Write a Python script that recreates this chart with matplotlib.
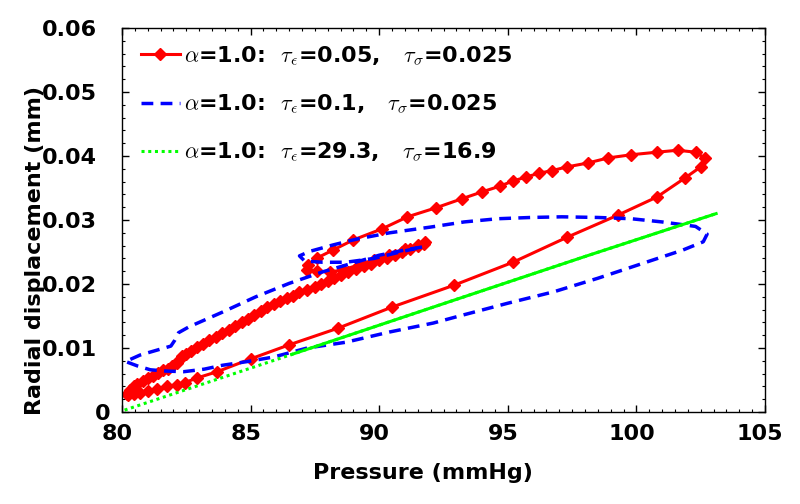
import matplotlib
matplotlib.use("Agg")
import matplotlib.pyplot as plt
from matplotlib.ticker import MultipleLocator
from matplotlib.transforms import ScaledTranslation

plt.rcParams["font.family"] = ["DejaVu Sans"]
plt.rcParams["font.weight"] = "bold"
plt.rcParams["mathtext.fontset"] = "cm"

# red: tau_eps = 0.05, tau_sig = 0.025 (one sample per marker)
red_p = [80.25, 80.45, 80.7, 81.0, 81.35, 81.75, 82.15, 82.45, 82.9, 83.7,
         85.0, 86.5, 88.4, 90.5, 92.9, 95.2, 97.3, 99.3, 100.8, 101.9,
         102.5, 102.65, 102.3, 101.6, 100.8, 99.8, 98.9, 98.1, 97.3, 96.7,
         96.2, 95.7, 95.2, 94.7, 94.0, 93.2, 92.2, 91.1, 90.1, 89.0,
         88.2, 87.6, 87.25, 87.2, 87.6, 88.1, 88.6, 89.2, 89.8, 90.4,
         91.0, 91.5, 91.8, 91.75, 91.5, 91.2, 90.9, 90.6, 90.3, 90.0,
         89.7, 89.4, 89.1, 88.8, 88.5, 88.25, 88.0, 87.75, 87.5, 87.2,
         86.9, 86.65, 86.4, 86.15, 85.9, 85.65, 85.4, 85.15, 84.9, 84.65,
         84.4, 84.15, 83.9, 83.65, 83.4, 83.15, 82.9, 82.7, 82.5, 82.35,
         82.2, 82.15, 81.95, 81.8, 81.6, 81.4, 81.2, 81.0, 80.8, 80.6,
         80.45, 80.3, 80.2]
red_d = [0.0027, 0.0028, 0.0030, 0.0033, 0.0036, 0.0040, 0.0043, 0.0046, 0.0053, 0.0063,
         0.0083, 0.0105, 0.0131, 0.0164, 0.0198, 0.0234, 0.0273, 0.0308, 0.0336, 0.0366,
         0.0383, 0.0397, 0.0406, 0.0409, 0.0406, 0.0402, 0.0397, 0.0389, 0.0383, 0.0377,
         0.0373, 0.0367, 0.0361, 0.0353, 0.0344, 0.0333, 0.0319, 0.0305, 0.0286, 0.0269,
         0.0253, 0.0241, 0.0230, 0.0222, 0.0220, 0.0219, 0.0222, 0.0230, 0.0238, 0.0246,
         0.0254, 0.0261, 0.0265, 0.0263, 0.0260, 0.0255, 0.0250, 0.0246, 0.0241, 0.0237,
         0.0232, 0.0228, 0.0224, 0.0219, 0.0214, 0.0209, 0.0204, 0.0200, 0.0196, 0.0191,
         0.0187, 0.0182, 0.0178, 0.0173, 0.0169, 0.0164, 0.0158, 0.0152, 0.0146, 0.0140,
         0.0134, 0.0128, 0.0123, 0.0117, 0.0112, 0.0106, 0.0101, 0.0096, 0.0091, 0.0087,
         0.0082, 0.0076, 0.0072, 0.0068, 0.0065, 0.0061, 0.0057, 0.0053, 0.0049, 0.0044,
         0.0040, 0.0035, 0.0028]

# blue: tau_eps = 0.1, tau_sig = 0.025
blue_p = [80.2, 80.6, 81.1, 81.7, 82.4, 83.2, 83.9, 84.9, 85.9, 87.2,
          88.7, 90.4, 92.1, 93.3, 95.0, 96.8, 98.5, 100.3, 101.8, 102.6,
          102.75, 102.3, 101.0, 99.8, 98.5, 97.1, 95.9, 94.6, 93.3, 92.0,
          90.4, 89.1, 88.2, 87.3, 86.9, 87.1, 87.8, 88.7, 89.8, 90.8,
          91.7, 91.1, 90.0, 89.0, 87.8, 86.5, 85.2, 83.9, 82.6, 82.2,
          82.05, 81.9, 80.7, 80.2]
blue_d = [0.0078, 0.0072, 0.0066, 0.0064, 0.0063, 0.0067, 0.0073, 0.0079, 0.0086, 0.0100,
          0.0109, 0.0125, 0.0139, 0.0152, 0.0170, 0.0188, 0.0209, 0.0233, 0.0253, 0.0266,
          0.0278, 0.0290, 0.0297, 0.0302, 0.0304, 0.0305, 0.0304, 0.0302, 0.0297, 0.0289,
          0.0280, 0.0270, 0.0261, 0.0251, 0.0244, 0.0236, 0.0234, 0.0234, 0.0240, 0.0250,
          0.0258, 0.0254, 0.0245, 0.0233, 0.0219, 0.0201, 0.0180, 0.0156, 0.0133, 0.0124,
          0.0112, 0.0103, 0.0089, 0.0080]

# green: tau_eps = 29.3, tau_sig = 16.9, loading pass then the unloading pass back down
green_load_p = [80.1, 86.6, 93.0, 98.0, 103.1]
green_load_d = [0.0003, 0.0090, 0.0176, 0.0243, 0.0310]
green_unload_p = [103.1, 98.0, 93.0, 86.6]
green_unload_d = [0.0310, 0.0243, 0.0176, 0.0090]

labels = [
    r"$\alpha$=1.0:  $\tau_\epsilon$=0.05,   $\tau_\sigma$=0.025",
    r"$\alpha$=1.0:  $\tau_\epsilon$=0.1,   $\tau_\sigma$=0.025",
    r"$\alpha$=1.0:  $\tau_\epsilon$=29.3,   $\tau_\sigma$=16.9",
]
xticks = [80, 85, 90, 95, 100, 105]
yticks = [0, 0.01, 0.02, 0.03, 0.04, 0.05, 0.06]
ytick_labels = ["0", "0.01", "0.02", "0.03", "0.04", "0.05", "0.06"]

fig = plt.figure(figsize=(8, 5.04), dpi=100)
ax = fig.add_axes([0.1525, 0.1825, 0.80375, 0.7619])

ax.plot(red_p, red_d, color="#ff0000", lw=2.2, marker="D", ms=6, label=labels[0])
ax.plot(blue_p, blue_d, color="#0000ff", lw=2.5, dashes=(3.4, 2.1), label=labels[1])
ax.plot(green_load_p, green_load_d, color="#00ff00", lw=2.2,
        linestyle=(0, (1, 1.2)), label=labels[2])
ax.plot(green_unload_p, green_unload_d, color="#00ff00", lw=2.2)

ax.set_xlim(80, 105)
ax.set_ylim(0, 0.06)
ax.set_xticks(xticks)
ax.set_yticks(yticks, ytick_labels)
ax.xaxis.set_minor_locator(MultipleLocator(0.5))
ax.yaxis.set_minor_locator(MultipleLocator(0.002))
ax.tick_params(which="both", direction="in", top=True, right=True, labelsize=16)
ax.tick_params(which="major", length=5, width=1)
ax.tick_params(which="minor", length=2.5, width=0.8)
ax.tick_params(axis="y", pad=18)
ax.tick_params(axis="x", pad=8.5)
for sp in ax.spines.values():
    sp.set_linewidth(1.0)

ax.set_xlabel("Pressure (mmHg)", fontsize=16, fontweight="bold")
ax.set_ylabel("Radial displacement (mm)", fontsize=16, fontweight="bold")
ax.xaxis.set_label_coords(0.4675, -0.133)
ax.yaxis.set_label_coords(-0.12, 0.42)

# the zero label sits a bit to the right in the original
ax.get_yticklabels()[0].set_x(13 / 643)
shift = ScaledTranslation(-5 / 100, 0, fig.dpi_scale_trans)
for lab in ax.get_xticklabels():
    lab.set_transform(lab.get_transform() + shift)

ax.legend(loc="upper left", bbox_to_anchor=(0.0295, 0.957), frameon=False,
          borderpad=0, borderaxespad=0, handlelength=1.75, handletextpad=0.2,
          labelspacing=1.13, prop={"size": 16, "weight": "bold"})

fig.savefig("out.png", dpi=100)
